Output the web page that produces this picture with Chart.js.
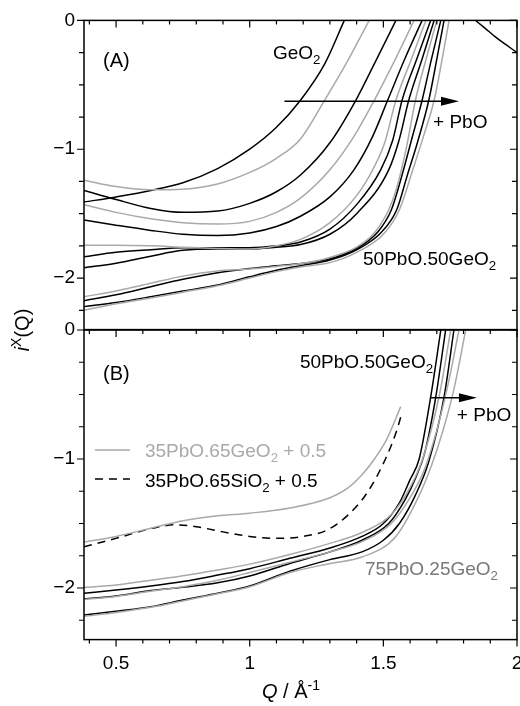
<!DOCTYPE html>
<html>
<head>
<meta charset="utf-8">
<script src="https://cdn.jsdelivr.net/npm/chart.js@4.4.0/dist/chart.umd.min.js"></script>
<style>
  html, body { margin: 0; padding: 0; background: #fff; }
  #wrap { position: relative; width: 520px; height: 706px; }
  #wrap canvas { position: absolute; left: 0; top: 0; }
</style>
</head>
<body>
<div id="wrap">
  <canvas id="chartA" width="520" height="706"></canvas>
  <canvas id="chartB" width="520" height="706"></canvas>
</div>
<script>
//! axes
const xTicks = [0.5, 1, 1.5, 2];
const yTicks = [-2, -1, 0];

//! panel (A) : GeO2 -> 50PbO.50GeO2, [Q, i(Q)]
const a01 = [[0.38,-1.41],[0.5,-1.37],[0.63,-1.32],[0.75,-1.26],[0.88,-1.15],[1.0,-1.0],[1.1,-0.83],[1.19,-0.62],[1.28,-0.34],[1.354,0]]; // GeO2
const a02 = [[0.38,-1.24],[0.5,-1.29],[0.63,-1.315],[0.75,-1.31],[0.88,-1.27],[1.0,-1.18],[1.1,-1.07],[1.19,-0.92],[1.28,-0.62],[1.37,-0.3],[1.447,0]];
const a03 = [[0.38,-1.32],[0.5,-1.39],[0.63,-1.46],[0.75,-1.49],[0.88,-1.48],[1.0,-1.42],[1.1,-1.33],[1.19,-1.2],[1.3,-0.95],[1.397,-0.62],[1.475,-0.3],[1.547,0]];
const a04 = [[0.38,-1.43],[0.5,-1.49],[0.63,-1.54],[0.75,-1.57],[0.88,-1.58],[1.0,-1.56],[1.1,-1.49],[1.19,-1.38],[1.3,-1.16],[1.39,-0.9],[1.466,-0.62],[1.545,-0.3],[1.615,0]];
const a05 = [[0.38,-1.55],[0.5,-1.59],[0.63,-1.63],[0.75,-1.66],[0.88,-1.67],[1.0,-1.65],[1.1,-1.6],[1.19,-1.52],[1.3,-1.37],[1.39,-1.16],[1.46,-0.9],[1.516,-0.62],[1.58,-0.3],[1.645,0]];
const a06 = [[0.38,-1.745],[0.5,-1.745],[0.63,-1.75],[0.75,-1.76],[0.88,-1.77],[1.0,-1.775],[1.1,-1.75],[1.19,-1.7],[1.3,-1.57],[1.4,-1.36],[1.46,-1.16],[1.505,-0.95],[1.547,-0.62],[1.605,-0.3],[1.659,0]];
const a07 = [[0.38,-1.835],[0.5,-1.8],[0.63,-1.78],[0.75,-1.765],[0.88,-1.765],[1.0,-1.765],[1.1,-1.75],[1.19,-1.72],[1.3,-1.62],[1.4,-1.43],[1.49,-1.16],[1.535,-0.93],[1.57,-0.62],[1.625,-0.3],[1.677,0]];
const a08 = [[0.38,-1.92],[0.5,-1.885],[0.63,-1.83],[0.75,-1.785],[0.88,-1.775],[1.0,-1.775],[1.1,-1.76],[1.19,-1.74],[1.3,-1.66],[1.4,-1.5],[1.52,-1.16],[1.56,-0.92],[1.595,-0.62],[1.645,-0.3],[1.69,0]];
const a09 = [[0.38,-2.145],[0.5,-2.1],[0.63,-2.04],[0.75,-1.985],[0.88,-1.945],[1.0,-1.93],[1.1,-1.91],[1.2,-1.885],[1.3,-1.84],[1.4,-1.76],[1.47,-1.64],[1.52,-1.47],[1.55,-1.3],[1.585,-1.0],[1.62,-0.62],[1.66,-0.3],[1.70,0]];
const a10 = [[0.38,-2.176],[0.5,-2.13],[0.63,-2.067],[0.75,-2.01],[0.88,-1.958],[1.0,-1.925],[1.1,-1.905],[1.2,-1.885],[1.3,-1.85],[1.4,-1.77],[1.48,-1.64],[1.53,-1.47],[1.57,-1.2],[1.605,-0.93],[1.645,-0.62],[1.68,-0.3],[1.715,0]];
const a11 = [[0.38,-2.222],[0.5,-2.19],[0.63,-2.145],[0.75,-2.1],[0.88,-2.054],[1.0,-1.99],[1.1,-1.94],[1.2,-1.9],[1.3,-1.86],[1.4,-1.78],[1.49,-1.65],[1.55,-1.47],[1.59,-1.2],[1.63,-0.93],[1.67,-0.62],[1.70,-0.3],[1.727,0]];
const a12 = [[0.38,-2.25],[0.5,-2.2],[0.63,-2.155],[0.75,-2.11],[0.88,-2.06],[1.0,-2.0],[1.1,-1.95],[1.2,-1.91],[1.3,-1.88],[1.4,-1.8],[1.5,-1.66],[1.56,-1.47],[1.61,-1.16],[1.65,-0.9],[1.69,-0.62],[1.72,-0.3],[1.746,0]]; // 50PbO.50GeO2
const aTail = [[1.845,0],[1.88,-0.06],[1.92,-0.13],[1.96,-0.19],[2.0,-0.25]];

//! panel (B) : 50PbO.50GeO2 -> 75PbO.25GeO2
const b01 = [[0.38,-2.04],[0.5,-2.016],[0.63,-1.985],[0.75,-1.95],[0.88,-1.9],[1.0,-1.85],[1.15,-1.77],[1.3,-1.69],[1.42,-1.6],[1.5,-1.5],[1.56,-1.34],[1.6,-1.16],[1.634,-1.0],[1.677,-0.52],[1.715,0]];
const b02 = [[0.38,-2.085],[0.5,-2.062],[0.63,-2.02],[0.75,-1.995],[0.88,-1.96],[1.0,-1.907],[1.15,-1.81],[1.3,-1.72],[1.42,-1.63],[1.52,-1.5],[1.58,-1.32],[1.62,-1.15],[1.655,-0.95],[1.696,-0.52],[1.733,0]];
const b03 = [[0.38,-1.995],[0.5,-1.977],[0.63,-1.94],[0.75,-1.905],[0.88,-1.86],[1.0,-1.815],[1.15,-1.74],[1.3,-1.654],[1.42,-1.57],[1.53,-1.43],[1.6,-1.22],[1.65,-0.98],[1.71,-0.5],[1.752,0]];
const b04 = [[0.38,-2.21],[0.5,-2.18],[0.63,-2.145],[0.75,-2.093],[0.88,-2.04],[1.0,-1.985],[1.15,-1.87],[1.3,-1.78],[1.42,-1.72],[1.5,-1.63],[1.56,-1.5],[1.62,-1.28],[1.67,-1.02],[1.727,-0.52],[1.764,0]];
const b05 = [[0.38,-2.09],[0.5,-2.065],[0.63,-2.025],[0.75,-1.99],[0.88,-1.94],[1.0,-1.88],[1.15,-1.8],[1.3,-1.72],[1.42,-1.64],[1.53,-1.5],[1.6,-1.3],[1.65,-1.1],[1.69,-0.85],[1.739,-0.45],[1.783,0]];
const b06 = [[0.38,-2.22],[0.5,-2.19],[0.63,-2.15],[0.75,-2.1],[0.88,-2.045],[1.0,-1.99],[1.15,-1.88],[1.3,-1.81],[1.42,-1.76],[1.547,-1.6],[1.63,-1.3],[1.68,-1.05],[1.72,-0.8],[1.765,-0.45],[1.808,0]]; // 75PbO.25GeO2
const bGe35 = [[0.38,-1.645],[0.5,-1.6],[0.63,-1.537],[0.75,-1.478],[0.88,-1.44],[1.0,-1.42],[1.15,-1.38],[1.3,-1.3],[1.37,-1.22],[1.425,-1.11],[1.47,-0.99],[1.512,-0.85],[1.565,-0.594]];
const bSi35 = [[0.38,-1.68],[0.5,-1.615],[0.63,-1.54],[0.72,-1.51],[0.8,-1.525],[0.9,-1.565],[1.0,-1.6],[1.1,-1.615],[1.2,-1.6],[1.29,-1.55],[1.37,-1.43],[1.44,-1.26],[1.51,-0.99],[1.55,-0.78],[1.565,-0.675]];

const BLACK = '#000000';
const GREY = '#a9a9a9';
const DARK_GREY = '#787878';
const FONT = '"Liberation Sans", Arial, Helvetica, sans-serif';

Chart.defaults.font.family = FONT;
Chart.defaults.color = '#000';

function line(points, color, dash) {
    return {
        data: points.map(([x, y]) => ({ x, y })),
        borderColor: color,
        borderWidth: 1.5,
        borderDash: dash || [],
        pointRadius: 0,
        cubicInterpolationMode: 'monotone',
        fill: false,
    };
}

// texte avec indices / exposants
function rich(ctx, parts, x, y, size, color, align) {
    const fontFor = (st) => {
        const s = (st === 'sub' || st === 'sup') ? size * 0.7 : size;
        return (st === 'i' ? 'italic ' : '') + s + 'px ' + FONT;
    };
    let w = 0;
    parts.forEach(([t, st]) => { ctx.font = fontFor(st); w += ctx.measureText(t).width; });
    let cx = align === 'center' ? x - w / 2 : x;
    ctx.fillStyle = color;
    ctx.textAlign = 'left';
    ctx.textBaseline = 'alphabetic';
    parts.forEach(([t, st]) => {
        ctx.font = fontFor(st);
        const dy = st === 'sub' ? size * 0.25 : st === 'sup' ? -size * 0.42 : 0;
        ctx.fillText(t, cx, y + dy);
        cx += ctx.measureText(t).width;
    });
}

function arrow(ctx, x0, x1, y) {
    ctx.strokeStyle = BLACK;
    ctx.fillStyle = BLACK;
    ctx.lineWidth = 1.5;
    ctx.beginPath();
    ctx.moveTo(x0, y);
    ctx.lineTo(x1 - 12, y);
    ctx.stroke();
    ctx.beginPath();
    ctx.moveTo(x1, y);
    ctx.lineTo(x1 - 18, y - 4.5);
    ctx.lineTo(x1 - 18, y + 4.5);
    ctx.closePath();
    ctx.fill();
}

//! box + tick marks (+ x labels under panel B)
const frame = {
    id: 'frame',
    afterDraw(chart, args, opts) {
        const { ctx, chartArea: a, scales: { x, y } } = chart;
        ctx.save();
        ctx.strokeStyle = BLACK;
        ctx.lineWidth = 1.5;
        ctx.strokeRect(a.left, a.top, a.right - a.left, a.bottom - a.top);
        ctx.lineWidth = 1.2;
        ctx.beginPath();
        for (let k = 4; k <= 20; k++) {
            const px = x.getPixelForValue(k / 10);
            const len = k % 5 === 0 ? 7 : 4;
            ctx.moveTo(px, a.top);
            ctx.lineTo(px, a.top + len);
            if (opts.bottom) {
                ctx.moveTo(px, a.bottom);
                ctx.lineTo(px, a.bottom + len);
            }
        }
        for (let k = -9; k <= 0; k++) {
            const py = y.getPixelForValue(k / 4);
            const len = k % 4 === 0 ? 7 : 5;
            ctx.moveTo(a.left, py);
            ctx.lineTo(a.left - len, py);
            ctx.moveTo(a.right, py);
            ctx.lineTo(a.right - len, py);
        }
        ctx.stroke();
        if (opts.bottom) {
            ctx.fillStyle = BLACK;
            ctx.font = '19px ' + FONT;
            ctx.textAlign = 'center';
            ctx.textBaseline = 'top';
            xTicks.forEach(v => ctx.fillText(String(v), x.getPixelForValue(v), a.bottom + 15));
        }
        ctx.restore();
    }
};

const scales = {
    x: {
        type: 'linear',
        min: 0.38,
        max: 2.0,
        grid: { display: false, drawTicks: false },
        border: { display: false },
        afterBuildTicks: (s) => { s.ticks = xTicks.map(v => ({ value: v })); },
        afterFit: (s) => { s.height = 0; },
        ticks: { display: false },
    },
    y: {
        min: -2.4,
        max: 0,
        grid: { display: false, drawTicks: false },
        border: { display: false },
        afterBuildTicks: (s) => { s.ticks = yTicks.map(v => ({ value: v })); },
        afterFit: (s) => { s.width = 84; },
        ticks: {
            padding: 9,
            font: { size: 19 },
            callback: (v) => String(v).replace('-', '\u2212'),
        },
    },
};

const common = {
    responsive: false,
    animation: false,
    events: [],
    devicePixelRatio: 1,
    scales,
};

//! (A)
new Chart(document.getElementById('chartA'), {
    type: 'line',
    data: {
        datasets: [
            line(a02, GREY), line(a04, GREY), line(a06, GREY), line(a09, GREY), line(a12, GREY),
            line(a01, BLACK), line(a03, BLACK), line(a05, BLACK), line(a07, BLACK), line(a08, BLACK),
            line(a10, BLACK), line(a11, BLACK), line(aTail, BLACK),
        ]
    },
    options: {
        ...common,
        layout: { padding: { left: 0, right: 3, top: 20, bottom: 706 - 329.6 } },
        plugins: { legend: { display: false }, tooltip: { enabled: false }, frame: { bottom: false } },
    },
    plugins: [frame, {
        id: 'notesA',
        afterDraw(chart) {
            const { ctx, scales: { x, y } } = chart;
            ctx.save();
            rich(ctx, [['(A)', '']], x.getPixelForValue(0.451), y.getPixelForValue(-0.364), 20, BLACK);
            rich(ctx, [['GeO', ''], ['2', 'sub']], x.getPixelForValue(1.087), y.getPixelForValue(-0.302), 19, BLACK);
            arrow(ctx, x.getPixelForValue(1.13), x.getPixelForValue(1.783), y.getPixelForValue(-0.628));
            rich(ctx, [['+ PbO', '']], x.getPixelForValue(1.686), y.getPixelForValue(-0.837), 19, BLACK);
            rich(ctx, [['50PbO.50GeO', ''], ['2', 'sub']], x.getPixelForValue(1.424), y.getPixelForValue(-1.9), 19, BLACK);
            ctx.restore();
        }
    }]
});

//! (B)
new Chart(document.getElementById('chartB'), {
    type: 'line',
    data: {
        datasets: [
            line(bGe35, GREY), line(bSi35, BLACK, [8, 6]),
            line(b03, GREY), line(b05, GREY), line(b06, GREY),
            line(b01, BLACK), line(b02, BLACK), line(b04, BLACK),
        ]
    },
    options: {
        ...common,
        layout: { padding: { left: 0, right: 3, top: 330, bottom: 706 - 639.6 } },
        plugins: { legend: { display: false }, tooltip: { enabled: false }, frame: { bottom: true } },
    },
    plugins: [frame, {
        id: 'notesB',
        afterDraw(chart) {
            const { ctx, scales: { x, y } } = chart;
            ctx.save();
            rich(ctx, [['(B)', '']], x.getPixelForValue(0.451), y.getPixelForValue(-0.388), 20, BLACK);
            rich(ctx, [['50PbO.50GeO', ''], ['2', 'sub']], x.getPixelForValue(1.188), y.getPixelForValue(-0.295), 19, BLACK);
            arrow(ctx, x.getPixelForValue(1.674), x.getPixelForValue(1.85), y.getPixelForValue(-0.525));
            rich(ctx, [['+ PbO', '']], x.getPixelForValue(1.775), y.getPixelForValue(-0.705), 19, BLACK);
            rich(ctx, [['75PbO.25GeO', ''], ['2', 'sub']], x.getPixelForValue(1.431), y.getPixelForValue(-1.899), 19, DARK_GREY);

            // légende
            const lx0 = x.getPixelForValue(0.421), lx1 = x.getPixelForValue(0.552), tx = x.getPixelForValue(0.608);
            ctx.lineWidth = 1.5;
            ctx.strokeStyle = GREY;
            ctx.beginPath();
            ctx.moveTo(lx0, y.getPixelForValue(-0.93));
            ctx.lineTo(lx1, y.getPixelForValue(-0.93));
            ctx.stroke();
            rich(ctx, [['35PbO.65GeO', ''], ['2', 'sub'], [' + 0.5', '']], tx, y.getPixelForValue(-0.984), 19, GREY);
            ctx.strokeStyle = BLACK;
            ctx.setLineDash([8, 6]);
            ctx.beginPath();
            ctx.moveTo(lx0, y.getPixelForValue(-1.155));
            ctx.lineTo(lx1, y.getPixelForValue(-1.155));
            ctx.stroke();
            ctx.setLineDash([]);
            rich(ctx, [['35PbO.65SiO', ''], ['2', 'sub'], [' + 0.5', '']], tx, y.getPixelForValue(-1.217), 19, BLACK);

            // titres des axes
            rich(ctx, [['Q', 'i'], [' / Å', ''], ['-1', 'sup']], 291, 698, 20, BLACK, 'center');
            ctx.translate(29, 330);
            ctx.rotate(-Math.PI / 2);
            rich(ctx, [['i', 'i'], ['X', 'sup'], ['(Q)', '']], 0, 0, 20, BLACK, 'center');
            ctx.restore();
        }
    }]
});
</script>
</body>
</html>
